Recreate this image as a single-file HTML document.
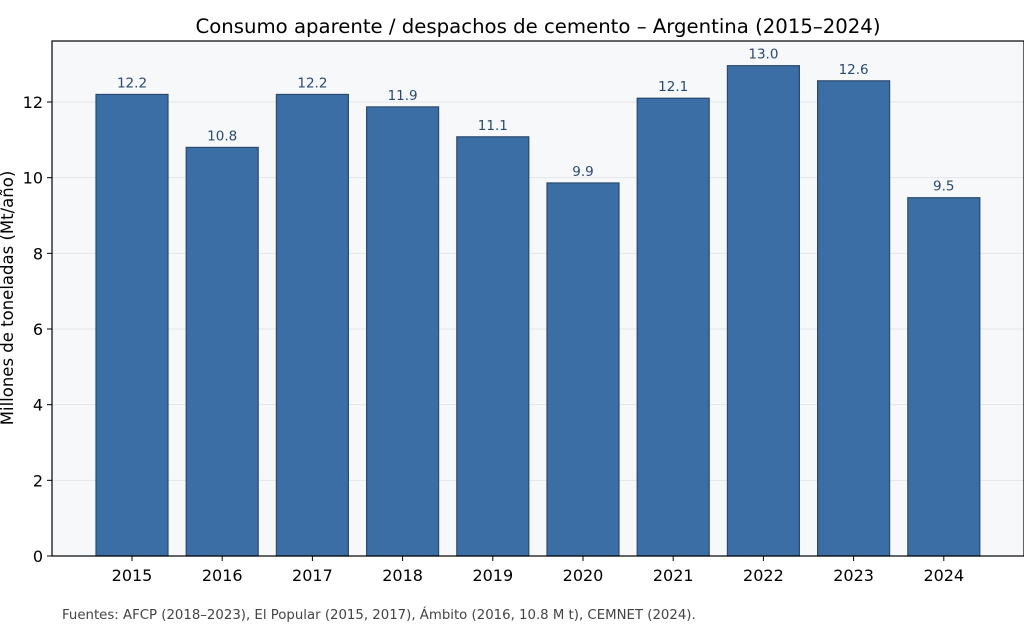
<!DOCTYPE html>
<html><head><meta charset="utf-8"><style>
html,body{margin:0;padding:0;background:#fff;width:1024px;height:636px;overflow:hidden}
svg text{font-family:"DejaVu Sans","Liberation Sans",sans-serif}
</style></head><body>
<svg id="chart" width="1024" height="636" xmlns="http://www.w3.org/2000/svg">
<text x="538" y="33" text-anchor="middle" font-size="19.7" fill="#000">Consumo aparente / despachos de cemento – Argentina (2015–2024)</text>
<rect x="52" y="41" width="972" height="515" fill="#f7f8fa"/>
<g id="grid"></g><g id="bars"></g><g id="axes"></g>
<text transform="translate(13,298) rotate(-90)" text-anchor="middle" font-size="16.5" fill="#000">Millones de toneladas (Mt/año)</text>
<text x="62" y="619" font-size="13.3" fill="#444">Fuentes: AFCP (2018–2023), El Popular (2015, 2017), Ámbito (2016, 10.8 M t), CEMNET (2024).</text>
</svg>
<script>
const categories=["2015","2016","2017","2018","2019","2020","2021","2022","2023","2024"];
const values=[12.2,10.8,12.2,11.87,11.08,9.86,12.1,12.96,12.56,9.47];
const yTicks=[0,2,4,6,8,10,12];
const NS="http://www.w3.org/2000/svg";
const y=v=>556-v*(454/12);
const x=i=>132+i*90.2;
function mk(tag,attrs,parent,txt){const e=document.createElementNS(NS,tag);for(const k in attrs)e.setAttribute(k,attrs[k]);if(txt!==undefined)e.textContent=txt;parent.appendChild(e);return e;}
const grid=document.getElementById('grid'),bars=document.getElementById('bars'),axes=document.getElementById('axes');
yTicks.forEach(t=>{
  if(t>0){const g=mk('line',{x1:52,x2:1024,y1:y(t),y2:y(t),stroke:'#e3e5e8','stroke-width':1},grid);
  
  }
  mk('line',{x1:47,x2:52,y1:y(t),y2:y(t),stroke:'#000'},axes);
  const l=mk('text',{x:43,y:y(t)+6,'text-anchor':'end','font-size':16},axes,String(t));
  
  
});
values.forEach((v,i)=>{
  const r=mk('rect',{x:x(i)-36,y:y(v),width:72,height:556-y(v),fill:'#3a6ea5',stroke:'#2a4a6e','stroke-width':1.2},bars);
  
  
  const t=mk('text',{x:x(i),y:y(v)-7,'text-anchor':'middle','font-size':13.5,fill:'#2a4a70'},bars,v.toFixed(1));
  
  
  mk('line',{x1:x(i),x2:x(i),y1:556,y2:561,stroke:'#000'},axes);
  const c=mk('text',{x:x(i),y:581,'text-anchor':'middle','font-size':16},axes,categories[i]);
  
  
});
mk('rect',{x:52,y:41,width:972,height:515,fill:'none',stroke:'#000','stroke-width':1.2},axes);
</script>
</body></html>
